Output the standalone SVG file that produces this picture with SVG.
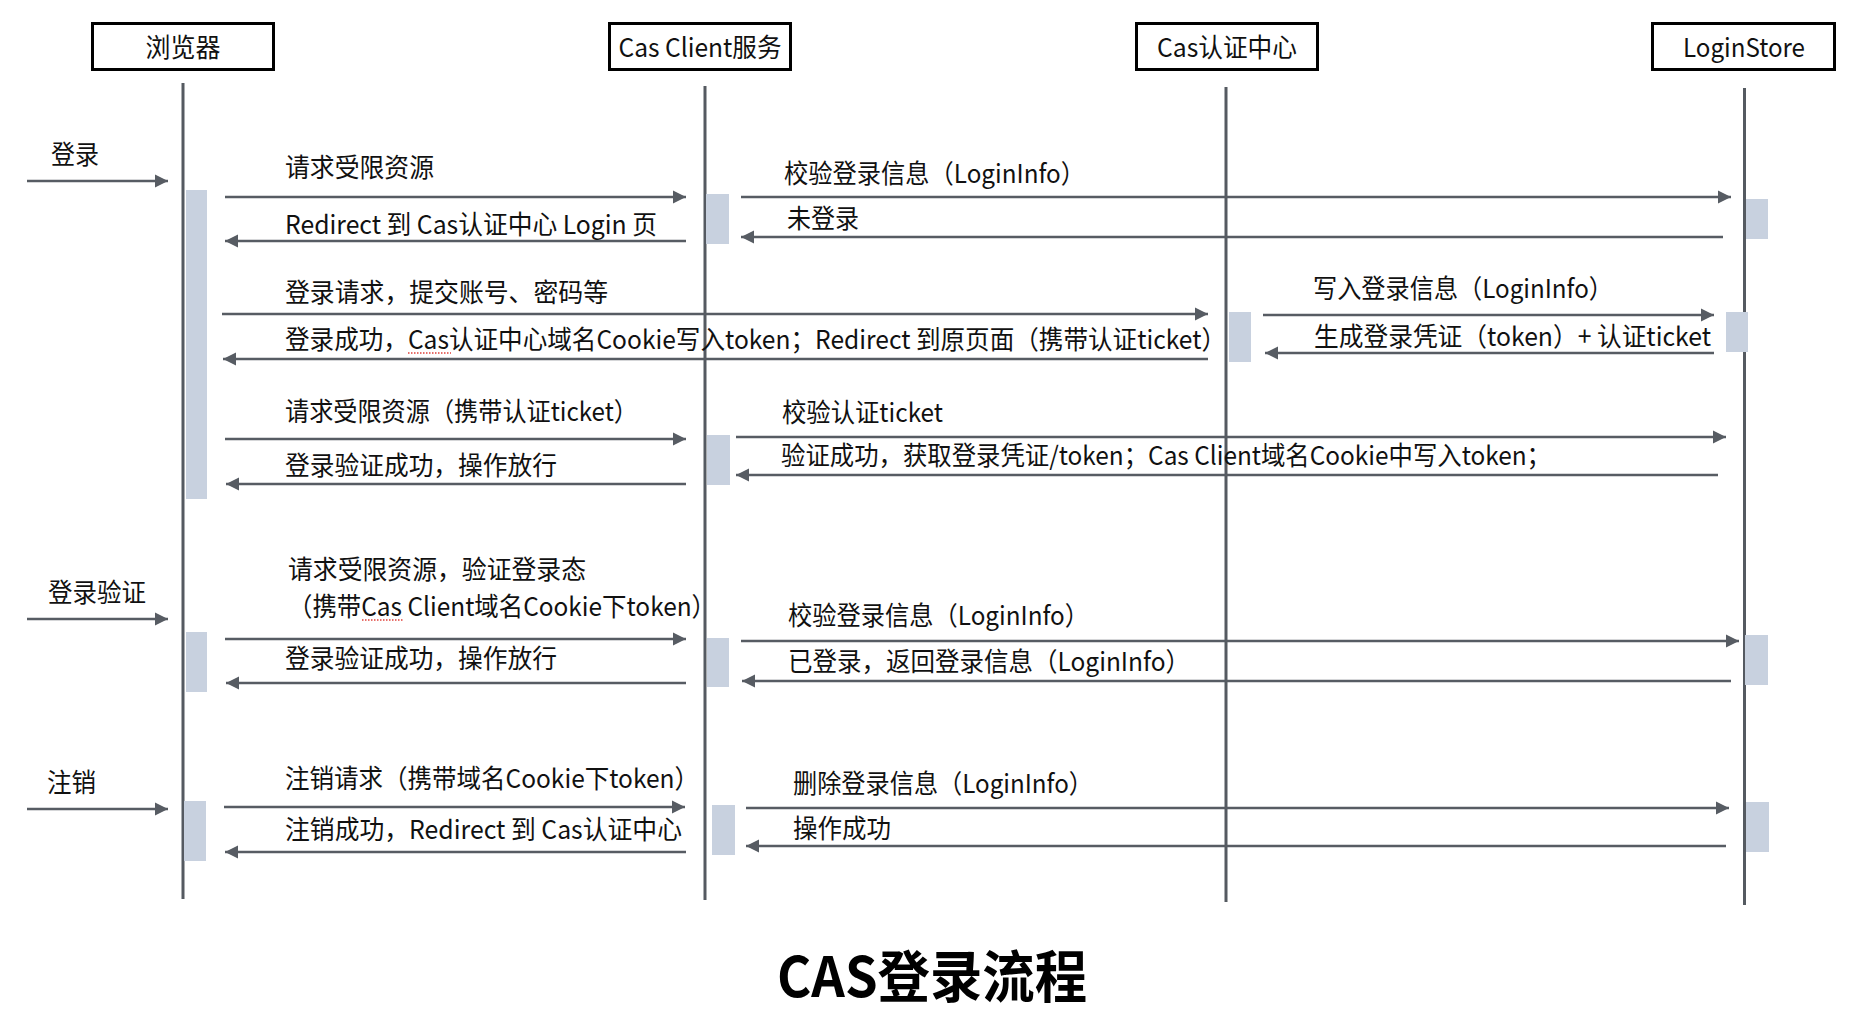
<svg xmlns="http://www.w3.org/2000/svg" width="1862" height="1018" viewBox="0 0 1862 1018">
<style>
text{font-family:"Noto Sans CJK SC","Noto Sans",sans-serif;fill:#111;}
.hd{font-size:26px;text-anchor:middle;}
.lb{font-size:26px;}
.head{fill:#fff;stroke:#000;stroke-width:3;}
.life{stroke:#555a61;stroke-width:3;fill:none;}
.act{fill:#c8d1df;stroke:none;}
.msg line{stroke:#575c63;stroke-width:2.6;fill:none;}
.title{font-size:56px;font-weight:bold;text-anchor:middle;fill:#000;}
.spell{stroke:#e0403a;stroke-width:1.5;stroke-dasharray:1.5 1.5;fill:none;}
</style>
<defs>
<marker id="ah" markerUnits="userSpaceOnUse" markerWidth="14" markerHeight="14" viewBox="0 0 14 14" refX="13" refY="7" orient="auto">
<path d="M0,0.5 L13,7 L0,13.5 z" fill="#575c63"/>
</marker>
</defs>
<rect width="1862" height="1018" fill="#fff"/>

<g id="browser">
<rect class="head" x="92.5" y="23.5" width="181" height="46"/>
<text class="hd" x="183" y="57" textLength="75" lengthAdjust="spacingAndGlyphs">浏览器</text>
<line class="life" x1="183" y1="83" x2="183" y2="899"/>
<rect class="act" x="186" y="190" width="21" height="309"/>
<rect class="act" x="186" y="632" width="21" height="60"/>
<rect class="act" x="184" y="801" width="22" height="60"/>
</g>

<g id="cas-client">
<rect class="head" x="609.5" y="23.5" width="181" height="46"/>
<text class="hd" x="700" y="57" textLength="163" lengthAdjust="spacingAndGlyphs">Cas Client服务</text>
<line class="life" x1="705" y1="86" x2="705" y2="900"/>
<rect class="act" x="706" y="194" width="23" height="50"/>
<rect class="act" x="707" y="435" width="23" height="50"/>
<rect class="act" x="707" y="638" width="22" height="49"/>
<rect class="act" x="712" y="805" width="23" height="50"/>
</g>

<g id="cas-server">
<rect class="head" x="1136.5" y="23.5" width="181" height="46"/>
<text class="hd" x="1227" y="57" textLength="140" lengthAdjust="spacingAndGlyphs">Cas认证中心</text>
<line class="life" x1="1226" y1="87" x2="1226" y2="902"/>
<rect class="act" x="1229" y="312" width="22" height="50"/>
</g>

<g id="login-store">
<rect class="head" x="1652.5" y="23.5" width="182" height="46"/>
<text class="hd" x="1744" y="57" textLength="122" lengthAdjust="spacingAndGlyphs">LoginStore</text>
<line class="life" x1="1744.5" y1="88" x2="1744.5" y2="905"/>
<rect class="act" x="1746" y="199" width="22" height="40"/>
<rect class="act" x="1726" y="312" width="22" height="40"/>
<rect class="act" x="1745" y="635" width="23" height="50"/>
<rect class="act" x="1746" y="802" width="23" height="50"/>
</g>

<g id="phases">
<text class="lb" x="51" y="164" textLength="48" lengthAdjust="spacingAndGlyphs">登录</text>
<text class="lb" x="48" y="602" textLength="98" lengthAdjust="spacingAndGlyphs">登录验证</text>
<text class="lb" x="47" y="792" textLength="49" lengthAdjust="spacingAndGlyphs">注销</text>
</g>

<g id="connectors" class="msg">
<line x1="27" y1="181" x2="168" y2="181" marker-end="url(#ah)"/>
<line x1="27" y1="619" x2="168" y2="619" marker-end="url(#ah)"/>
<line x1="27" y1="809" x2="168" y2="809" marker-end="url(#ah)"/>
<line x1="225" y1="197" x2="686" y2="197" marker-end="url(#ah)"/>
<line x1="686" y1="241" x2="225" y2="241" marker-end="url(#ah)"/>
<line x1="741" y1="197" x2="1731" y2="197" marker-end="url(#ah)"/>
<line x1="1723" y1="237" x2="741" y2="237" marker-end="url(#ah)"/>
<line x1="222" y1="314" x2="1208" y2="314" marker-end="url(#ah)"/>
<line x1="1208" y1="359" x2="223" y2="359" marker-end="url(#ah)"/>
<line x1="1263" y1="315" x2="1714" y2="315" marker-end="url(#ah)"/>
<line x1="1714" y1="353" x2="1265" y2="353" marker-end="url(#ah)"/>
<line x1="225" y1="439" x2="686" y2="439" marker-end="url(#ah)"/>
<line x1="686" y1="484" x2="226" y2="484" marker-end="url(#ah)"/>
<line x1="736" y1="437" x2="1726" y2="437" marker-end="url(#ah)"/>
<line x1="1718" y1="475" x2="736" y2="475" marker-end="url(#ah)"/>
<line x1="225" y1="639" x2="686" y2="639" marker-end="url(#ah)"/>
<line x1="686" y1="683" x2="226" y2="683" marker-end="url(#ah)"/>
<line x1="741" y1="641" x2="1739" y2="641" marker-end="url(#ah)"/>
<line x1="1731" y1="681" x2="742" y2="681" marker-end="url(#ah)"/>
<line x1="224" y1="807" x2="685" y2="807" marker-end="url(#ah)"/>
<line x1="686" y1="852" x2="225" y2="852" marker-end="url(#ah)"/>
<line x1="746" y1="808" x2="1729" y2="808" marker-end="url(#ah)"/>
<line x1="1726" y1="846" x2="746" y2="846" marker-end="url(#ah)"/>
</g>

<g id="message-labels">
<text class="lb" x="285" y="177" textLength="149" lengthAdjust="spacingAndGlyphs">请求受限资源</text>
<text class="lb" x="285" y="234" textLength="372" lengthAdjust="spacingAndGlyphs">Redirect 到 Cas认证中心 Login 页</text>
<text class="lb" x="784" y="183" textLength="301" lengthAdjust="spacingAndGlyphs">校验登录信息（LoginInfo）</text>
<text class="lb" x="787" y="228" textLength="72" lengthAdjust="spacingAndGlyphs">未登录</text>
<text class="lb" x="285" y="302" textLength="323" lengthAdjust="spacingAndGlyphs">登录请求，提交账号、密码等</text>
<text class="lb" x="285" y="349" textLength="941" lengthAdjust="spacingAndGlyphs">登录成功，Cas认证中心域名Cookie写入token；Redirect 到原页面（携带认证ticket）</text>
<text class="lb" x="1313" y="298" textLength="300" lengthAdjust="spacingAndGlyphs">写入登录信息（LoginInfo）</text>
<text class="lb" x="1314" y="346" textLength="397" lengthAdjust="spacingAndGlyphs">生成登录凭证（token）+ 认证ticket</text>
<text class="lb" x="285" y="421" textLength="353" lengthAdjust="spacingAndGlyphs">请求受限资源（携带认证ticket）</text>
<text class="lb" x="285" y="475" textLength="272" lengthAdjust="spacingAndGlyphs">登录验证成功，操作放行</text>
<text class="lb" x="782" y="422" textLength="161" lengthAdjust="spacingAndGlyphs">校验认证ticket</text>
<text class="lb" x="781" y="465" textLength="770" lengthAdjust="spacingAndGlyphs">验证成功，获取登录凭证/token；Cas Client域名Cookie中写入token；</text>
<text class="lb" x="288" y="579" textLength="298" lengthAdjust="spacingAndGlyphs">请求受限资源，验证登录态</text>
<text class="lb" x="288" y="616" textLength="428" lengthAdjust="spacingAndGlyphs">（携带Cas Client域名Cookie下token）</text>
<text class="lb" x="285" y="668" textLength="272" lengthAdjust="spacingAndGlyphs">登录验证成功，操作放行</text>
<text class="lb" x="788" y="625" textLength="301" lengthAdjust="spacingAndGlyphs">校验登录信息（LoginInfo）</text>
<text class="lb" x="788" y="671" textLength="402" lengthAdjust="spacingAndGlyphs">已登录，返回登录信息（LoginInfo）</text>
<text class="lb" x="285" y="788" textLength="414" lengthAdjust="spacingAndGlyphs">注销请求（携带域名Cookie下token）</text>
<text class="lb" x="285" y="839" textLength="397" lengthAdjust="spacingAndGlyphs">注销成功，Redirect 到 Cas认证中心</text>
<text class="lb" x="793" y="793" textLength="300" lengthAdjust="spacingAndGlyphs">删除登录信息（LoginInfo）</text>
<text class="lb" x="793" y="838" textLength="98" lengthAdjust="spacingAndGlyphs">操作成功</text>
<path class="spell" d="M408,353 h43"/>
<path class="spell" d="M362,620 h42"/>
</g>

<text class="title" x="932" y="997" textLength="310" lengthAdjust="spacingAndGlyphs">CAS登录流程</text>
</svg>
